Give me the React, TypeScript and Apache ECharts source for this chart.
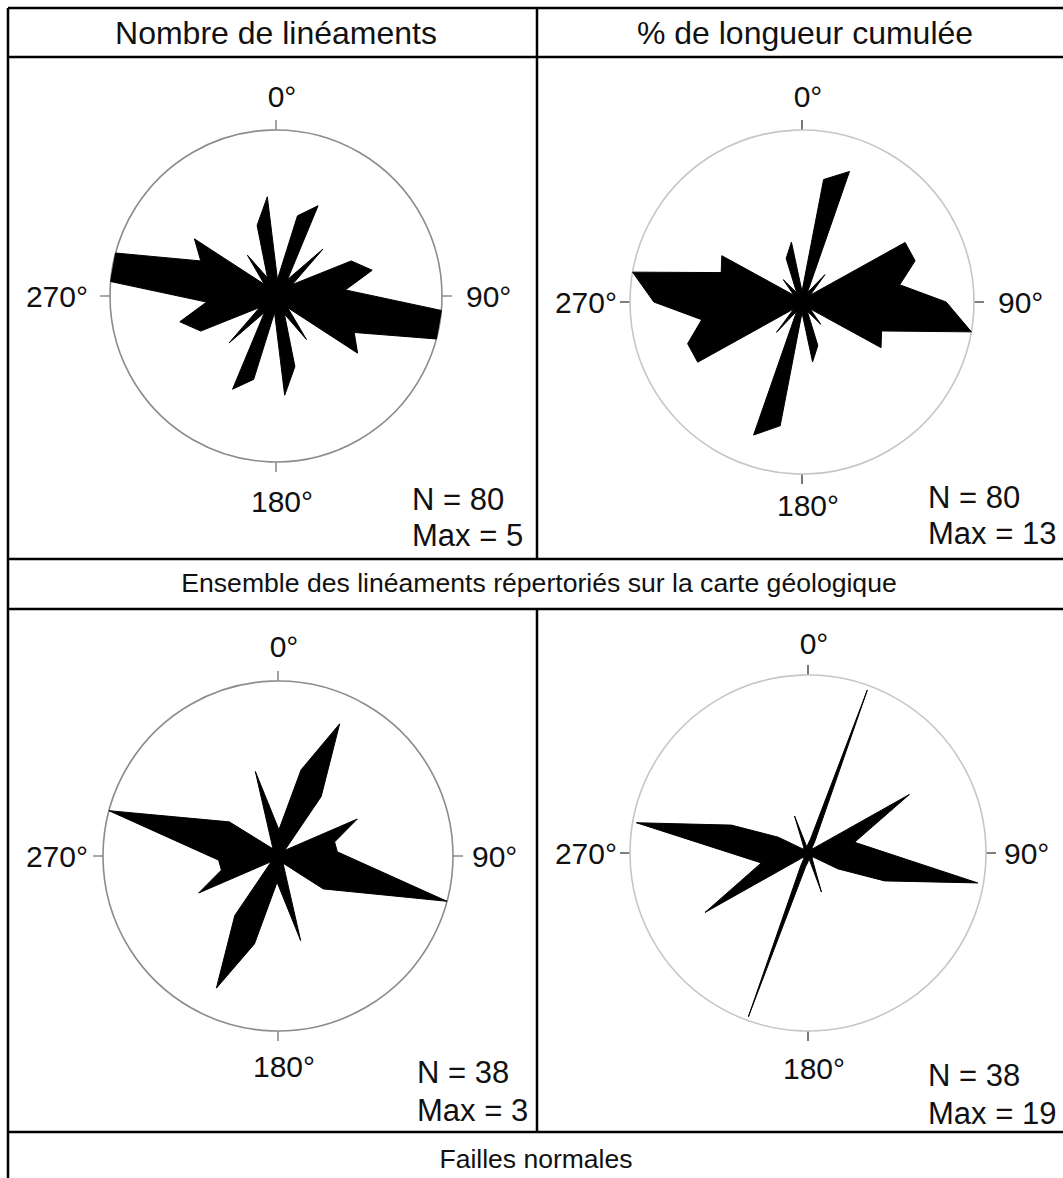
import React, { useEffect, useRef } from "react";
import * as echarts from "echarts";

// ---------- DATA ----------
const COLUMN_TITLES = ["Nombre de linéaments", "% de longueur cumulée"];
const ROW_CAPTIONS = [
  "Ensemble des linéaments répertoriés sur la carte géologique",
  "Failles normales",
];
const AXIS_TICKS = [0, 90, 180, 270];

// Top-left: number of lineaments per 10° class (all lineaments)
const TL_ANGLES = [5, 15, 25, 35, 45, 55, 65, 75, 85, 95, 105, 115, 125, 135, 145, 155, 165, 175,
  185, 195, 205, 215, 225, 235, 245, 255, 265, 275, 285, 295, 305, 315, 325, 335, 345, 355];
const TL_VALUES = [0.5, 2.5, 3.0, 0.6, 2.0, 0.6, 2.5, 3.0, 2.1, 5.0, 5.0, 2.6, 3.0, 0.5, 1.6, 0.6, 2.2, 3.0,
  0.5, 2.6, 3.1, 0.6, 2.0, 0.6, 2.5, 3.0, 2.1, 5.0, 5.0, 2.5, 3.0, 0.5, 1.5, 0.6, 2.2, 3.0];
const TL_N = 80;
const TL_MAX = 5;

// Top-right: % of cumulated length (all lineaments)
const TR_ANGLES = [0, 10, 20, 30, 40, 50, 60, 70, 80, 90, 100, 110, 120, 130, 140, 150, 160, 170,
  180, 190, 200, 210, 220, 230, 240, 250, 260, 270, 280, 290, 300, 310, 320, 330, 340, 350];
const TR_VALUES = [0.8, 9.4, 10.5, 0.8, 2.7, 0.8, 9.0, 9.1, 7.5, 10.9, 13.0, 6.4, 6.9, 0.8, 2.2, 0.8, 3.5, 4.6,
  0.8, 9.5, 10.7, 0.8, 3.0, 0.8, 9.1, 9.2, 7.7, 11.2, 13.0, 6.5, 7.0, 0.8, 2.2, 0.8, 3.5, 4.6];
const TR_N = 80;
const TR_MAX = 13;

// Bottom-left: number of normal faults
const BL_ANGLES = [2, 15, 25, 36, 50, 65, 76, 86, 105, 126, 145, 165,
  182, 195, 205, 216, 230, 245, 256, 266, 285, 305, 325, 345];
const BL_VALUES = [0.45, 1.53, 2.5, 1.26, 0.15, 1.5, 1.0, 1.02, 3.0, 0.96, 0.15, 1.5,
  0.45, 1.56, 2.5, 1.26, 0.15, 1.5, 1.0, 1.02, 3.0, 1.02, 0.15, 1.5];
const BL_N = 38;
const BL_MAX = 3;

// Bottom-right: % of cumulated length of normal faults
const BR_ANGLES = [0, 10, 20, 30, 40, 50, 60, 77, 100, 110, 118, 130, 145, 161, 170,
  180, 190, 200, 210, 220, 230, 240, 258, 280, 290, 298, 310, 325, 340, 350];
const BR_VALUES = [0.95, 1.5, 18.5, 1.5, 0.6, 0.8, 12.5, 5.1, 18.4, 8.7, 3.6, 0.6, 0.8, 4.4, 0.6,
  0.95, 1.5, 18.6, 1.5, 0.6, 0.8, 12.7, 5.1, 18.6, 8.7, 3.6, 0.6, 0.8, 4.2, 0.6];
const BR_N = 38;
const BR_MAX = 19;

// ---------- LAYOUT / STYLE ----------
const FONT = '"Liberation Sans", Arial, Helvetica, sans-serif';
const W = 1063;
const H = 1178;

type Rose = {
  angles: number[];
  values: number[];
  n: number;
  max: number;
  center: [number, number];
  r: number;
  circle: string;
  tick: string;
  m: { t: number; b: number; l: number; r: number };
  stat: [number, number, number];
};

const ROSES: Rose[] = [
  { angles: TL_ANGLES, values: TL_VALUES, n: TL_N, max: TL_MAX, center: [276, 296], r: 166,
    circle: "#8c8c8c", tick: "#8c8c8c", m: { t: 19, b: 24, l: 22, r: 24 }, stat: [412, 499, 535] },
  { angles: TR_ANGLES, values: TR_VALUES, n: TR_N, max: TR_MAX, center: [802, 302], r: 172,
    circle: "#c6c6c6", tick: "#555555", m: { t: 19, b: 16, l: 13, r: 24 }, stat: [928, 497, 533] },
  { angles: BL_ANGLES, values: BL_VALUES, n: BL_N, max: BL_MAX, center: [278, 856], r: 175,
    circle: "#8c8c8c", tick: "#8c8c8c", m: { t: 20, b: 20, l: 15, r: 19 }, stat: [417, 1072, 1110] },
  { angles: BR_ANGLES, values: BR_VALUES, n: BR_N, max: BR_MAX, center: [808, 853], r: 178,
    circle: "#c6c6c6", tick: "#555555", m: { t: 17, b: 22, l: 13, r: 18 }, stat: [928, 1075, 1113] },
];

function text(x: number, y: number, s: string, size: number, align: string) {
  return {
    type: "text",
    x,
    y,
    silent: true,
    style: {
      x: 0,
      y: 0,
      text: s,
      fill: "#111",
      fontSize: size,
      fontFamily: FONT,
      align,
      textAlign: align,
      verticalAlign: "middle",
      textVerticalAlign: "middle",
    },
  };
}

function line(x1: number, y1: number, x2: number, y2: number) {
  return {
    type: "line",
    silent: true,
    shape: { x1, y1, x2, y2 },
    style: { stroke: "#000", lineWidth: 2.5 },
  };
}

export default function App() {
  const ref = useRef<HTMLDivElement>(null);

  useEffect(() => {
    document.body.style.margin = "0";
    if (!ref.current) return;
    const chart = echarts.init(ref.current, null, { renderer: "svg" });

    const polar = ROSES.map((ro) => ({ center: ro.center, radius: ro.r }));

    const angleAxis = ROSES.map((ro, i) => {
      const base = Math.min(ro.m.t, ro.m.b, ro.m.l, ro.m.r);
      return {
        polarIndex: i,
        type: "value",
        min: 0,
        max: 360,
        interval: 90,
        startAngle: 90,
        clockwise: true,
        axisLine: { show: true, lineStyle: { color: ro.circle, width: 1.6 } },
        axisTick: { show: true, length: 10, lineStyle: { color: ro.tick, width: 1.6 } },
        splitLine: { show: false },
        splitArea: { show: false },
        axisLabel: {
          show: true,
          margin: base,
          color: "#111",
          fontFamily: FONT,
          fontSize: 30,
          formatter: (v: number) => {
            if (!AXIS_TICKS.includes(v)) return "";
            const key = v === 0 ? "t" : v === 90 ? "r" : v === 180 ? "b" : "l";
            return `{${key}|${v}°}`;
          },
          rich: {
            t: { fontSize: 30, fontFamily: FONT, color: "#111", padding: [0, 0, ro.m.t - base, 12] },
            b: { fontSize: 30, fontFamily: FONT, color: "#111", padding: [ro.m.b - base, 0, 0, 12] },
            l: { fontSize: 30, fontFamily: FONT, color: "#111", padding: [0, ro.m.l - base, 0, 0] },
            r: { fontSize: 30, fontFamily: FONT, color: "#111", padding: [0, 0, 0, ro.m.r - base] },
          },
        },
      };
    });

    const radiusAxis = ROSES.map((ro, i) => ({
      polarIndex: i,
      type: "value",
      min: 0,
      max: ro.max,
      show: false,
      axisLine: { show: false },
      axisTick: { show: false },
      axisLabel: { show: false },
      splitLine: { show: false },
    }));

    const series = ROSES.map((ro, i) => ({
      type: "custom",
      coordinateSystem: "polar",
      polarIndex: i,
      silent: true,
      animation: false,
      data: ro.angles.map((a, k) => [ro.values[k], a]),
      renderItem: (params: any, api: any) => {
        if (params.dataIndex !== 0) return null;
        const pts = ro.angles.map((a, k) => api.coord([ro.values[k], a]));
        return {
          type: "polygon",
          shape: { points: pts },
          style: { fill: "#000", stroke: "#000", lineWidth: 1, lineJoin: "round" },
        };
      },
    }));

    const graphic: any[] = [
      // table frame
      line(8, 8, 1075, 8),
      line(8, 8, 8, 1185),
      line(8, 57, 1075, 57),
      line(8, 559, 1075, 559),
      line(8, 609, 1075, 609),
      line(8, 1132, 1075, 1132),
      line(537, 8, 537, 559),
      line(537, 609, 537, 1132),
      // headers & captions
      text(276, 33, COLUMN_TITLES[0], 32, "center"),
      text(805, 33, COLUMN_TITLES[1], 32, "center"),
      text(539, 583, ROW_CAPTIONS[0], 26.6, "center"),
      text(536, 1159, ROW_CAPTIONS[1], 26.5, "center"),
    ];
    ROSES.forEach((ro) => {
      graphic.push(text(ro.stat[0], ro.stat[1], `N = ${ro.n}`, 31, "left"));
      graphic.push(text(ro.stat[0], ro.stat[2], `Max = ${ro.max}`, 31, "left"));
    });

    chart.setOption({
      animation: false,
      backgroundColor: "#ffffff",
      polar,
      angleAxis,
      radiusAxis,
      series,
      graphic,
    });

    return () => chart.dispose();
  }, []);

  return <div ref={ref} style={{ width: W, height: H }} />;
}
